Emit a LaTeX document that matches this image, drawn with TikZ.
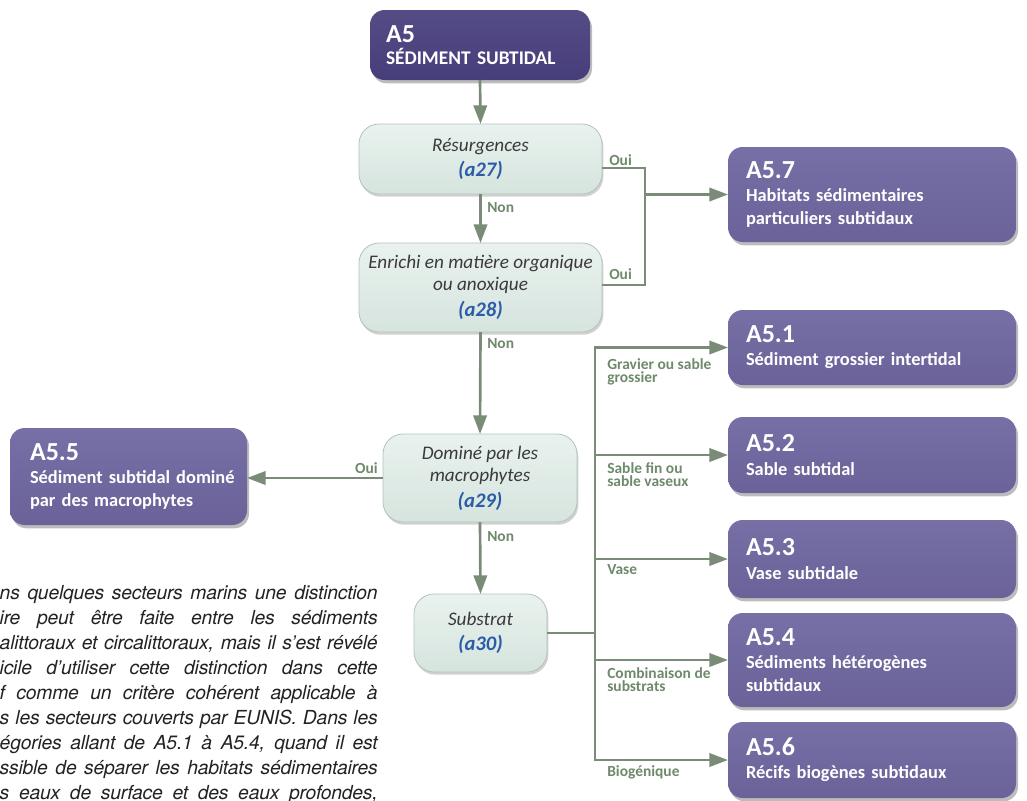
\documentclass[tikz,border=0pt]{standalone}
\usepackage{fontspec}
\setmainfont{Carlito}
\newfontfamily\helv{TeX Gyre Heros}[LetterSpace=-1.2]
\usetikzlibrary{arrows.meta,shadows}

\definecolor{navy}{HTML}{463D7B}
\definecolor{purptop}{HTML}{7670A6}
\definecolor{purpbot}{HTML}{6A6299}
\definecolor{minttop}{HTML}{E9F2EE}
\definecolor{mintbot}{HTML}{D6E4DE}
\definecolor{mintedge}{HTML}{B3C3BB}
\definecolor{conncol}{HTML}{7A8B78}
\definecolor{lblcol}{HTML}{6E8A6B}
\definecolor{idblue}{HTML}{2B5CA8}
\definecolor{dtext}{HTML}{3A3A3A}
\definecolor{paracol}{HTML}{222222}

\newcommand\idtag[1]{\\[2.5pt]{\color{idblue}\bfseries\itshape\fontsize{15.5}{17}\selectfont(#1)}}
\newcommand\habtitle[1]{{\fontsize{19.5}{20}\selectfont #1}}

\tikzset{
  boxshadow/.style={drop shadow={shadow xshift=1.5pt, shadow yshift=-2.5pt, opacity=0.35, fill=black!75}},
  lightshadow/.style={drop shadow={shadow xshift=1pt, shadow yshift=-2pt, opacity=0.18, fill=black}},
  hab/.style={rounded corners=11pt, top color=purptop, bottom color=purpbot, boxshadow,
    text=white, font=\bfseries\fontsize{13.8}{17.3}\selectfont, align=left,
    inner sep=0pt, outer sep=0pt, minimum width=216pt, text width=189pt},
  topbox/.style={hab, top color=navy!92!white, bottom color=navy, font=\bfseries\fontsize{14.5}{17.3}\selectfont},
  decision/.style={rounded corners=15pt, draw=mintedge, line width=0.6pt,
    top color=minttop, bottom color=mintbot, lightshadow, text=dtext,
    font=\itshape\fontsize{14.4}{16.8}\selectfont, align=center, inner sep=0pt, outer sep=0pt},
  wire/.style={draw=conncol, line width=2pt},
  arr/.style={wire, -{Triangle[length=14pt,width=10pt]}},
  lab/.style={text=lblcol, font=\bfseries\fontsize{11.6}{10}\selectfont, align=left, inner sep=0pt},
  paraline/.style={text=paracol, font=\helv\itshape\fontsize{14.5}{18}\selectfont, inner sep=0pt, anchor=base east},
}

\begin{document}
\begin{tikzpicture}[x=0.75pt,y=-0.75pt]
\useasboundingbox (0,0) rectangle (1027,800);
\begin{scope}
\clip (0,0) rectangle (1027,800);

% top box
\node[topbox, minimum width=165pt, text width=141pt, minimum height=52.5pt] (a5) at (480,45)
  {\habtitle{A5}\\[-1pt]SÉDIMENT SUBTIDAL};

% decision boxes
\node[decision, minimum width=182.25pt, minimum height=52.5pt] (res) at (480.5,159)
  {Résurgences\idtag{a27}};
\node[decision, minimum width=182.25pt, minimum height=66.75pt] (enr) at (480.5,287.5)
  {Enrichi en matière organique\\ou anoxique\idtag{a28}};
\node[decision, minimum width=145.5pt, minimum height=66pt] (dom) at (480,478)
  {Dominé par les\\macrophytes\idtag{a29}};
\node[decision, minimum width=99.75pt, minimum height=58.5pt] (sub) at (480.5,633)
  {Substrat\idtag{a30}};

% habitat boxes
\node[hab, minimum height=71.25pt] (a57) at (872,194.5)
  {\habtitle{A5.7}\\\mbox{Habitats sédimentaires}\\\mbox{particuliers subtidaux}};
\node[hab, minimum height=56.25pt] (a51) at (872,347.5)
  {\habtitle{A5.1}\\\mbox{Sédiment grossier intertidal}};
\node[hab, minimum height=57pt] (a52) at (872,455)
  {\habtitle{A5.2}\\\mbox{Sable subtidal}};
\node[hab, minimum height=58.5pt] (a53) at (872,559)
  {\habtitle{A5.3}\\\mbox{Vase subtidale}};
\node[hab, minimum height=70.5pt] (a54) at (872,660)
  {\habtitle{A5.4}\\\mbox{Sédiments hétérogènes}\\\mbox{subtidaux}};
\node[hab, minimum height=57pt] (a56) at (872,760)
  {\habtitle{A5.6}\\\mbox{Récifs biogènes subtidaux}};
\node[hab, minimum width=177.75pt, text width=147.75pt, minimum height=72.75pt] (a55) at (128.5,476.5)
  {\habtitle{A5.5}\\\mbox{Sédiment subtidal dominé}\\\mbox{par des macrophytes}};

% connectors
\draw[arr] (a5.south) -- (res.north);
\draw[arr] (res.south) -- (enr.north);
\coordinate (jt) at (645,168);
\coordinate (jb) at (645,285);
\draw[wire] (res.east |- jt) -- (jt) -- (jb) -- (enr.east |- jb);
\draw[arr] (jt |- a57.west) -- (a57.west);
\draw[arr] (enr.south) -- (dom.north);
\draw[arr] (dom.west) -- (dom.west -| a55.east);
\draw[arr] (dom.south) -- (sub.north);
\coordinate (bus) at (595,633);
\draw[wire] (sub.east) -- (bus);
\draw[arr] (bus) -- (bus |- a51.west) -- (a51.west);
\draw[arr] (bus |- a52.west) -- (a52.west);
\draw[arr] (bus |- a53.west) -- (a53.west);
\draw[arr] (bus |- a54.west) -- (a54.west);
\draw[arr] (bus) -- (bus |- a56.west) -- (a56.west);

% connector labels
\node[lab, anchor=base west] (lo1) at (609,165) {Oui};
\node[lab, anchor=base west] (lo2) at (609,279) {Oui};
\node[lab, anchor=base west] (ln1) at (487,212) {Non};
\node[lab, anchor=base west] (ln2) at (487,348) {Non};
\node[lab, anchor=base east] (lo3) at (378,473) {Oui};
\node[lab, anchor=base west] (ln3) at (487,541) {Non};
\node[lab, anchor=north west] (lg) at (607,358) {Gravier ou sable\\grossier};
\node[lab, anchor=north west] (ls) at (607,462) {Sable fin ou\\sable vaseux};
\node[lab, anchor=base west] (lv) at (607,574) {Vase};
\node[lab, anchor=north west] (lc) at (607,667) {Combinaison de\\substrats};
\node[lab, anchor=base west] (lb) at (607,776) {Biogénique};

% paragraph (cut at the left and bottom edge)
\foreach \t [count=\k] in {
  {ns quelques secteurs marins une distinction},
  {ire peut être faite entre les sédiments},
  {alittoraux et circalittoraux, mais il s’est révélé},
  {icile d’utiliser cette distinction dans cette},
  {f comme un critère cohérent applicable à},
  {s les secteurs couverts par EUNIS. Dans les},
  {égories allant de A5.1 à A5.4, quand il est},
  {ssible de séparer les habitats sédimentaires},
  {s eaux de surface et des eaux profondes,}}
  \node[paraline] (p\k) at (378,574+25*\k) {\makebox[283.5pt][s]{\t}};

\end{scope}
\end{tikzpicture}
\end{document}
